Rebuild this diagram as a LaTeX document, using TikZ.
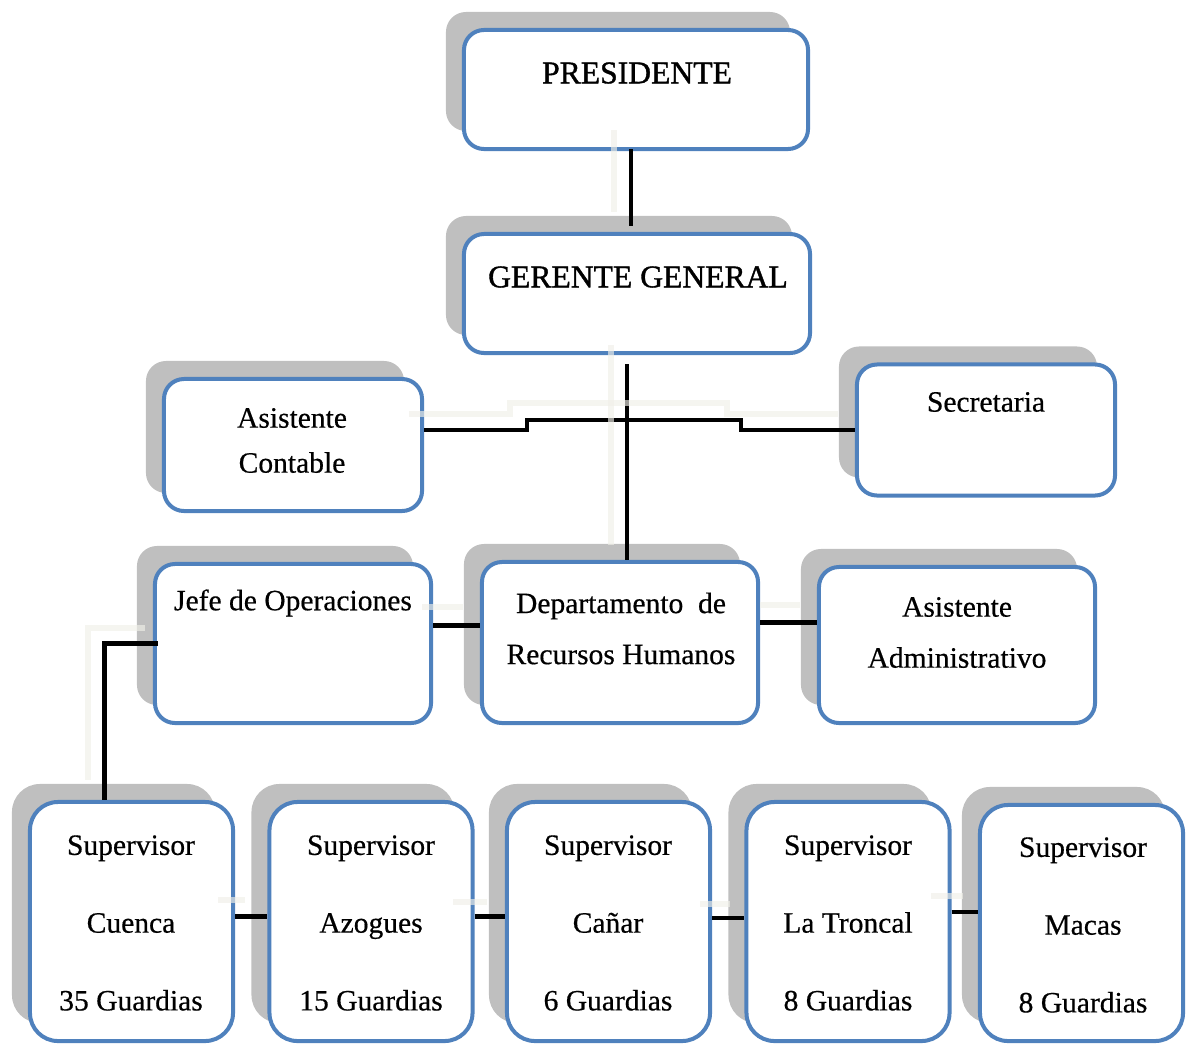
\documentclass[tikz,border=0pt]{standalone}
\usepackage{fontspec}
\setmainfont[FakeBold=0.5]{Liberation Serif}
\newfontfamily\fuentetitulo[FakeBold=1.2]{Liberation Serif}
\usetikzlibrary{positioning, calc, shadows}

\definecolor{azulcaja}{RGB}{79,129,189}
\definecolor{sombra}{RGB}{191,191,191}
\definecolor{fantasmacol}{RGB}{240,239,232}

\tikzset{
	caja/.style={draw=azulcaja, line width=0.1cm, fill=white, rounded corners=0.5cm,
		drop shadow={shadow xshift=-0.45cm, shadow yshift=0.45cm, fill=sombra, opacity=1}},
	cajasup/.style={caja, rounded corners=0.7cm, minimum width=5.075cm, minimum height=5.975cm},
	titulo/.style={font=\fuentetitulo\fontsize{22.5}{26}\selectfont},
	texto/.style={font=\fontsize{21}{32}\selectfont, align=center},
	textosup/.style={font=\fontsize{21}{55.3}\selectfont, align=center},
	linea/.style={line width=0.11cm, black},
	fantasma/.style={line width=0.13cm, draw=fantasmacol, opacity=0.65}
}

\begin{document}
\begin{tikzpicture}[x=0.025cm, y=-0.025cm]
	\useasboundingbox (0,0) rectangle (1187,1046);
	% cajas
	\node[caja, minimum width=8.6cm, minimum height=2.975cm] (pres) at (636,89.5) {};
	\node[caja, minimum width=8.65cm, minimum height=2.975cm] (ger) at (637,293.5) {};
	\node[caja, minimum width=6.45cm, minimum height=3.3cm] (asc) at (293,445) {};
	\node[caja, minimum width=6.45cm, minimum height=3.275cm] (sec) at (986,430) {};
	\node[caja, minimum width=6.9cm, minimum height=3.975cm] (jefe) at (293,643.5) {};
	\node[caja, minimum width=6.9cm, minimum height=4.025cm] (dept) at (620,642.5) {};
	\node[caja, minimum width=6.9cm, minimum height=3.9cm] (aad) at (957,645) {};
	\node[cajasup] (cue) at (131.5,921.5) {};
	\node[cajasup] (azo) at (371,921.5) {};
	\node[cajasup] (can) at (608.5,921.5) {};
	\node[cajasup] (ltr) at (848,921.5) {};
	\node[cajasup, minimum height=5.9cm] (mac) at (1081.5,923) {};
	% textos
	\node[titulo] (pres-t) at (637,73) {PRESIDENTE};
	\node[titulo] (ger-t) at (638,277) {GERENTE GENERAL};
	\node[texto] (asc-t) at (292,440.5) {Asistente\\Contable};
	\node[texto] (sec-t) at (986,402) {Secretaria};
	\node[texto] (jefe-t) at (293,603) {Jefe de Operaciones};
	\node[texto, font=\fontsize{21}{36.3}\selectfont] (dept-t) at (621,628.5) {Departamento~ de\\Recursos Humanos};
	\node[texto, font=\fontsize{21}{36.3}\selectfont] (aad-t) at (957,632.5) {Asistente\\Administrativo};
	\node[textosup] (cue-t) at (131,923) {Supervisor\\Cuenca\\35 Guardias};
	\node[textosup] (azo-t) at (371,923) {Supervisor\\Azogues\\15 Guardias};
	\node[textosup] (can-t) at (608,923) {Supervisor\\Cañar\\6 Guardias};
	\node[textosup] (ltr-t) at (848,923) {Supervisor\\La Troncal\\8 Guardias};
	\node[textosup] (mac-t) at (1083,925) {Supervisor\\Macas\\8 Guardias};
	% conectores
	\draw[linea] ($(pres.south)+(-5,-2)$) -- ($(ger.north)+(-6,-6)$);
	\draw[linea] ($(dept.north)+(7,0)$) -- ($(ger.south)+(-10,9)$);
	\draw[linea] ($(asc.east)+(0,-15)$) -- (527,430) -- (527,420) -- (741,420) -- (741,430) -- (sec.west);
	\draw[linea] ($(jefe.east)+(0,-18)$) coordinate (j1) -- (dept.west |- j1);
	\draw[linea] ($(dept.east)+(0,-20)$) coordinate (d1) -- (aad.west |- d1);
	\draw[linea] ($(jefe.west)+(5,0)$) -| ($(cue.north)+(-27,0)$);
	\draw[linea] ($(cue.east)+(0,-5)$) coordinate (s1) -- (azo.west |- s1);
	\draw[linea] ($(azo.east)+(0,-5)$) coordinate (s2) -- (can.west |- s2);
	\draw[linea] ($(can.east)+(0,-3.5)$) coordinate (s3) -- (ltr.west |- s3);
	\draw[linea] ($(ltr.east)+(0,-9.5)$) coordinate (s4) -- (mac.west |- s4);
	% lineas tenues
	\draw[fantasma] (614,130) -- (614,212);
	\draw[fantasma] (611,345) -- (611,545);
	\draw[fantasma] (409,414) -- (510,414) -- (510,403) -- (727,403) -- (727,414) -- (838,414);
	\draw[fantasma] (145,628) -- (88,628) -- (88,780);
	\draw[fantasma] (422,607) -- (463,607);
	\draw[fantasma] (760,605) -- (800,605);
	\draw[fantasma] (218,900) -- (245,900);
	\draw[fantasma] (453,902) -- (487,902);
	\draw[fantasma] (700,904) -- (730,904);
	\draw[fantasma] (931,896) -- (963,896);
\end{tikzpicture}
\end{document}
